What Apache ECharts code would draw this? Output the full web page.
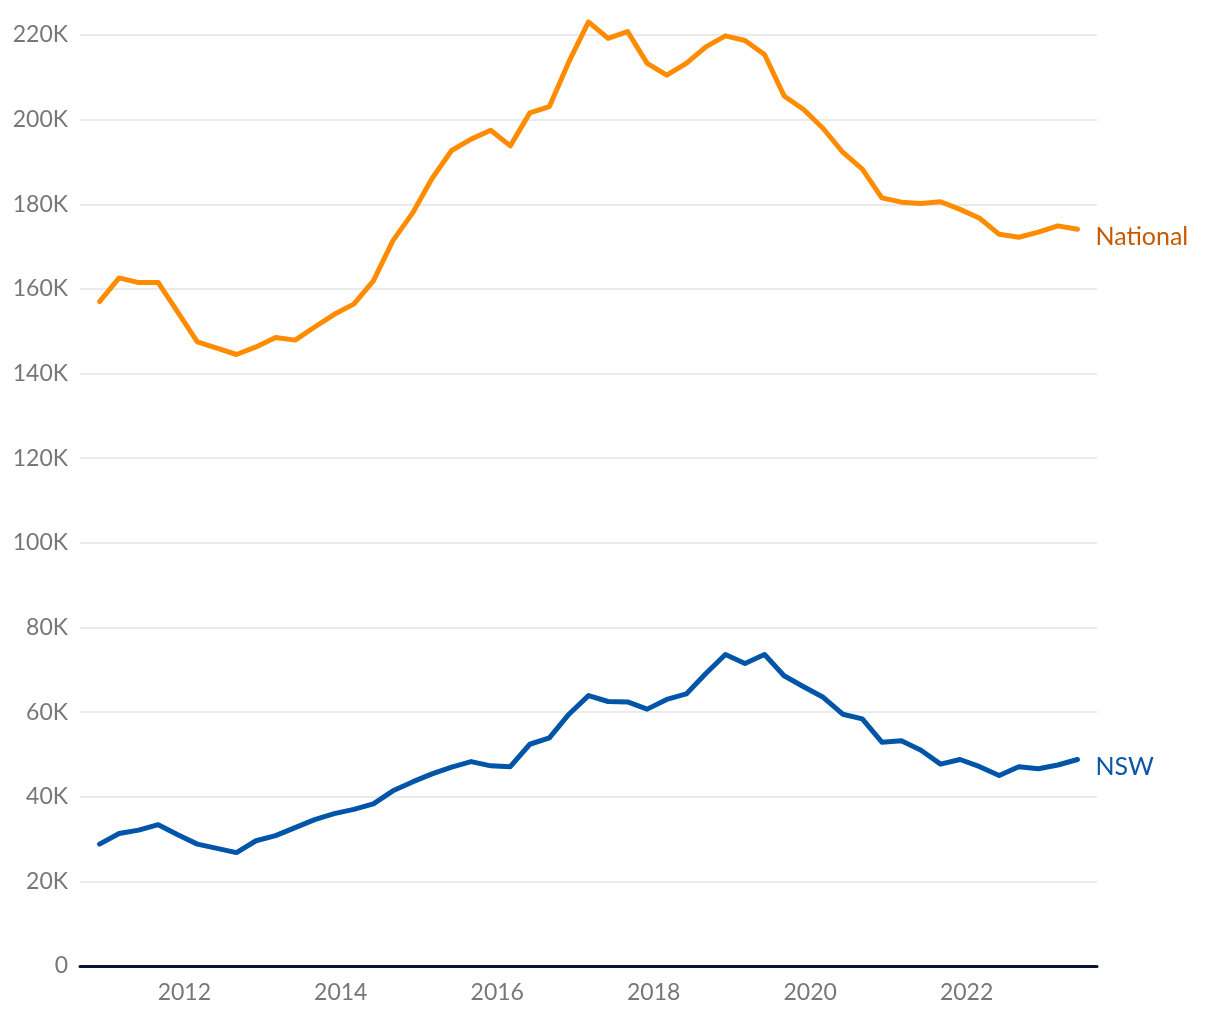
<!DOCTYPE html>
<html>
<head>
<meta charset="utf-8">
<script src="https://cdn.jsdelivr.net/npm/echarts@6/dist/echarts.min.js"></script>
<style>html,body{margin:0;padding:0;background:#fff}#c{width:1220px;height:1020px}</style>
</head>
<body>
<div id="c"></div>
<script>
var quarters = ['2010-12','2011-03','2011-06','2011-09','2011-12','2012-03','2012-06','2012-09','2012-12',
'2013-03','2013-06','2013-09','2013-12','2014-03','2014-06','2014-09','2014-12','2015-03','2015-06','2015-09','2015-12',
'2016-03','2016-06','2016-09','2016-12','2017-03','2017-06','2017-09','2017-12','2018-03','2018-06','2018-09','2018-12',
'2019-03','2019-06','2019-09','2019-12','2020-03','2020-06','2020-09','2020-12','2021-03','2021-06','2021-09','2021-12',
'2022-03','2022-06','2022-09','2022-12','2023-03','2023-06'];
var national = [157000,162600,161500,161500,154500,147500,146000,144500,146300,148500,147900,151000,154000,156400,161900,171400,177900,186100,192700,195400,197500,
193800,201600,203100,213700,223100,219200,220800,213300,210500,213300,217200,219800,218700,215400,205600,202400,197900,192300,188300,181500,
180500,180200,180600,178800,176700,172900,172200,173400,174900,174100];
var nsw = [28800,31300,32100,33400,31000,28800,27800,26800,29600,30800,32700,34600,36000,37000,38300,41400,43500,45400,47000,48300,47300,
47100,52400,53900,59500,63900,62500,62400,60700,63000,64300,69100,73600,71500,73600,68600,66000,63500,59500,58400,52900,
53200,51000,47700,48800,47100,45000,47100,46600,47500,48800];
var yearTicks = [2012,2014,2016,2018,2020,2022];
var seriesNames = ['National','NSW'];
var xRange = ['2010-09','2023-09'];

var FONT = 'Lato';
function toYear(q){ var p = q.split('-'); return (+p[0]) + ((+p[1]) - 1) / 12; }
function pairs(vals){ return quarters.map(function(q,i){ return [toYear(q), vals[i]]; }); }

var chart = echarts.init(document.getElementById('c'), null, {renderer:'canvas'});
chart.setOption({
  animation:false,
  backgroundColor:'#ffffff',
  grid:{left:80, right:123, top:35, bottom:54, containLabel:false},
  xAxis:{
    type:'value',
    min:toYear(xRange[0]), max:toYear(xRange[1]),
    axisLine:{show:true, onZero:false, lineStyle:{color:'#0b1536', width:3}},
    axisTick:{show:false},
    splitLine:{show:false},
    axisLabel:{
      customValues: yearTicks,
      formatter:function(v){ return String(Math.round(v)); },
      color:'#777777', fontFamily:FONT, fontSize:23, margin:15
    }
  },
  yAxis:{
    type:'value', min:0, max:220000, interval:20000,
    axisLine:{show:false}, axisTick:{show:false},
    splitLine:{lineStyle:{color:'#e3e3e3', width:1.5}},
    axisLabel:{
      formatter:function(v){ return v===0 ? '0' : (v/1000)+'K'; },
      color:'#777777', fontFamily:FONT, fontSize:23, margin:12
    }
  },
  series:[
    {name:seriesNames[0], type:'line', data:pairs(national), clip:false, showSymbol:false, symbol:'none',
     lineStyle:{color:'#ff8c00', width:5, cap:'round', join:'round'},
     endLabel:{show:true, formatter:seriesNames[0], color:'#c55a00', fontFamily:FONT, fontSize:25, distance:18, offset:[0,8]}},
    {name:seriesNames[1], type:'line', data:pairs(nsw), clip:false, showSymbol:false, symbol:'none',
     lineStyle:{color:'#0055a8', width:5, cap:'round', join:'round'},
     endLabel:{show:true, formatter:seriesNames[1], color:'#0b56a6', fontFamily:FONT, fontSize:25, distance:18, offset:[0,7]}}
  ]
});
</script>
</body>
</html>
